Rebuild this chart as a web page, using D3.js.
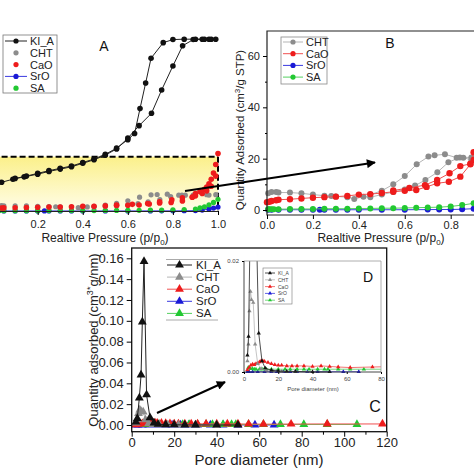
<!DOCTYPE html>
<html><head><meta charset="utf-8">
<script src="https://cdn.jsdelivr.net/npm/d3@7"></script>
<style>body{margin:0;background:#fff}svg{display:block}</style>
</head><body>
<svg id="c" width="474" height="474"></svg>
<script>
// ---------- Isotherm data (panels A & B): relative pressure / quantity adsorbed ----------
const kiaP = [0.01,0.04,0.09,0.14,0.2,0.25,0.3,0.35,0.4,0.45,0.5,0.55,0.6,0.65,0.705,0.75,0.8,0.843,0.89,0.93,0.96,0.99,
              0.97,0.94,0.9,0.85,0.8,0.757,0.703,0.679,0.654,0.63,0.6,0.55,0.5,0.45,0.4,0.35,0.3,0.25,0.2,0.15,0.1];
const kiaQ = [33,37,41,44,47.5,51,54,57,61.5,66,72,80,94,110,126,156,187,213,221,221.5,221.5,221.5,
              221.5,221.5,221.5,221.5,221,217,197,165,132,100,92,81,73,67,62.5,58,55,52,48.5,45,42];
const chtP = [0.005,0.02,0.04,0.05,0.1,0.15,0.2,0.25,0.28,0.3,0.35,0.38,0.42,0.45,0.5,0.55,0.6,0.645,0.69,0.742,0.79,0.84,0.89,0.95,0.99,
              0.96,0.89,0.855,0.826,0.775,0.73,0.703,0.652,0.6,0.55,0.5,0.45];
const chtQ = [6.5,7,7,6.8,6.8,6.5,6,5.6,5.5,5.3,5,4.3,5.2,5,6,7,8,9.5,11.7,14.7,18.6,20.5,20.5,21,21,
              20.5,19.5,20.4,20.4,21.7,21.3,20.8,17.8,13.2,10,7.5,6];
const caoP = [0.0,0.01,0.02,0.04,0.05,0.1,0.15,0.2,0.25,0.3,0.35,0.4,0.45,0.5,0.55,0.6,0.65,0.695,0.741,0.792,0.842,0.886,0.9,0.92,0.94,0.95,0.96,0.97,0.98,0.99,1.0,
              0.99,0.97,0.95,0.93,0.9,0.886,0.842,0.795,0.741,0.688,0.62,0.55];
const caoQ = [3,3.2,3.5,3.8,4,4.2,4.5,4.8,5,5.2,5.5,6,6.2,6.6,7.1,7.5,7.8,9,10.4,11,13,17.8,22.5,25,28,31,35,41,49,60,74,
              45,32,26,22.5,19.5,18,17.1,14.3,11.7,9.7,8.6,7.6];
const sroP = [0.005,0.02,0.05,0.1,0.15,0.2,0.23,0.25,0.3,0.35,0.4,0.5,0.6,0.7,0.75,0.8,0.85,0.9,0.93,0.96,0.98,1.0];
const sroQ = [0.1,0.1,0.1,0.1,0.1,0.1,0.1,0.1,0.1,0.1,0.1,0.1,0.1,0.15,0.2,0.2,0.3,0.5,1.2,2.5,3.8,5];
const saP = [0.005,0.01,0.02,0.03,0.05,0.1,0.15,0.2,0.25,0.3,0.35,0.4,0.45,0.5,0.55,0.6,0.65,0.7,0.75,0.8,0.85,0.9,0.92,0.94,0.96,0.98,1.0];
const saQ = [0.3,0.3,0.3,0.3,0.3,0.4,0.4,0.4,0.5,0.5,0.5,0.6,0.6,0.7,0.7,0.8,0.9,1.0,1.1,1.4,1.9,2.6,4,5.5,8,11,15];

// ---------- Pore size distribution data (panels C & D) ----------
const kiaD = [2.0,2.65,3.6,4.4,5.0,5.8,7.0,8.6,10.5,12.4,16,20,25,30,40,50];
const kiaV = [0.003,0.0064,0.026,0.048,0.099,0.157,0.029,0.007,0.002,0.0007,0.0003,0.0002,0.0001,0.0001,0.0,0.0];
const chtD = [2.0,2.6,3.2,3.8,4.4,5.4,6.5,8,10,13,17,22,30,40];
const chtV = [0.002,0.005,0.011,0.0145,0.013,0.0125,0.005,0.0015,0.0006,0.0003,0.0002,0.0001,0.0001,0.0];
const caoD = [2,3,4,5,6,7,8,9,10,11,12,14,16,18,20,22,25,28,31,35,40,45,50,55,62,75,92,118];
const caoV = [0.0004,0.0008,0.0012,0.0014,0.0013,0.0015,0.0016,0.0018,0.002,0.002,0.0019,0.0017,0.0015,0.0013,0.0012,0.0012,0.0011,0.0011,0.0011,0.0011,0.001,0.0011,0.001,0.0009,0.0008,0.0009,0.001,0.001];
const sroD = [2,3,5,8,12,16,19,23,27,31,37,43,50,58,67];
const sroV = [0.00005,0.00005,0.00005,0.00005,0.00005,0.00005,0.00005,0.00005,0.00005,0.00005,0.00005,0.00005,0.00005,0.00005,0.00005];
const saD = [2.5,3,4,5,6,7,9,11,13,16,20,24,27,31,35,38,43,47,49,55,62,70,81,92,106];
const saV = [0.0008,0.0007,0.0006,0.0006,0.0005,0.0005,0.0005,0.0005,0.0005,0.0005,0.0005,0.0005,0.0005,0.0005,0.0005,0.0005,0.0005,0.0005,0.0005,0.0005,0.0005,0.0005,0.0005,0.0005,0.0005];

const legendA = ["KI_A","CHT","CaO","SrO","SA"];
const legendB = ["CHT","CaO","SrO","SA"];
const ticksAx = [0.2,0.4,0.6,0.8,1.0];
const ticksBx = [0.0,0.2,0.4,0.6,0.8];
const ticksBy = [0,20,40,60];
const ticksCx = [0,20,40,60,80,100,120];
const ticksCy = [0,0.02,0.04,0.06,0.08,0.10,0.12,0.14,0.16];
const ticksDx = [0,20,40,60,80];
const ticksDy = [0,0.02];

const colors = {KI_A:"#111111", CHT:"#8c8c8c", CaO:"#ee1c1c", SrO:"#1a1ad6", SA:"#22c832"};
const lineColors = {KI_A:"#222222", CHT:"#b5b5b5", CaO:"#f05050", SrO:"#3a3ae0", SA:"#55d060"};
const FONT = "'Liberation Sans', Arial, sans-serif";

const svg = d3.select("#c").style("font-family", FONT);
const defs = svg.append("defs");
const grad = defs.append("linearGradient").attr("id","yel").attr("x1",0).attr("y1",0).attr("x2",0).attr("y2",1);
grad.append("stop").attr("offset","0%").attr("stop-color","#fbf08a");
grad.append("stop").attr("offset","100%").attr("stop-color","#fffde9");
defs.append("marker").attr("id","arr").attr("viewBox","0 0 10 10").attr("refX",9).attr("refY",5)
  .attr("markerWidth",11).attr("markerHeight",9).attr("markerUnits","userSpaceOnUse").attr("orient","auto")
  .append("path").attr("d","M0,0 L10,5 L0,10 z").attr("fill","#000");

function zip(a,b){ return a.map((v,i)=>[v,b[i]]); }

// ================= Panel A =================
const xA = d3.scaleLinear([0,1],[-7.4,218]);
const yA = d3.scaleLinear([0,70],[211,156.7]);
const gA = svg.append("g");
gA.append("rect").attr("x",xA(0)).attr("y",yA(70)).attr("width",xA(1)-xA(0)).attr("height",yA(0)-yA(70)).attr("fill","url(#yel)");
gA.append("line").attr("x1",xA(0)).attr("x2",xA(1)).attr("y1",yA(70)).attr("y2",yA(70))
  .attr("stroke","#000").attr("stroke-width",2).attr("stroke-dasharray","6,3");
gA.append("line").attr("x1",xA(1)).attr("x2",xA(1)).attr("y1",yA(70)).attr("y2",yA(0))
  .attr("stroke","#000").attr("stroke-width",2).attr("stroke-dasharray","6,3");

function isoSeries(g, xs, ys, P, Q, name, r, withLine){
  const pts = zip(P,Q);
  if(withLine){
    g.append("path").datum(pts).attr("fill","none").attr("stroke",lineColors[name]).attr("stroke-width",1)
      .attr("d", d3.line().x(d=>xs(d[0])).y(d=>ys(d[1])));
  }
  g.selectAll(null).data(pts).enter().append("circle")
    .attr("cx",d=>xs(d[0])).attr("cy",d=>ys(d[1])).attr("r",r).attr("fill",colors[name]);
}
isoSeries(gA,xA,yA,sroP,sroQ,"SrO",2.6,true);
isoSeries(gA,xA,yA,saP,saQ,"SA",2.6,false);
isoSeries(gA,xA,yA,chtP,chtQ,"CHT",2.6,false);
isoSeries(gA,xA,yA,caoP,caoQ,"CaO",2.8,false);
isoSeries(gA,xA,yA,kiaP,kiaQ,"KI_A",2.8,true);

const axA = gA.append("g").attr("transform","translate(0,211)")
  .call(d3.axisBottom(xA).tickValues(ticksAx).tickFormat(d3.format(".1f")).tickSize(4).tickSizeOuter(0));
axA.select(".domain").remove();
axA.selectAll("text").attr("font-size",11).attr("font-family",FONT).attr("fill","#222").attr("dy","0.9em");
gA.append("line").attr("x1",0).attr("x2",xA(1)).attr("y1",211.5).attr("y2",211.5).attr("stroke","#222");
gA.append("text").attr("x",105).attr("y",242).attr("text-anchor","middle").attr("font-size",12).attr("fill","#222")
  .call(t=>{t.append("tspan").text("Realtive Pressure (p/p"); t.append("tspan").attr("font-size",8).attr("dy",3).text("0"); t.append("tspan").attr("dy",-3).text(")");});
gA.append("text").attr("x",104).attr("y",51).attr("text-anchor","middle").attr("font-size",14).attr("fill","#111").text("A");

// legend A
const legA = gA.append("g");
legA.append("rect").attr("x",3).attr("y",35).attr("width",54).attr("height",58).attr("fill","#fff").attr("stroke","#777").attr("stroke-width",0.8);
legendA.forEach((n,i)=>{
  const y = 41 + i*11.8;
  if(n==="KI_A"||n==="SrO") legA.append("line").attr("x1",5).attr("x2",27).attr("y1",y).attr("y2",y).attr("stroke",lineColors[n]);
  legA.append("circle").attr("cx",16).attr("cy",y).attr("r",2.6).attr("fill",colors[n]);
  legA.append("text").attr("x",30).attr("y",y+4).attr("font-size",11).attr("fill","#222").text(n);
});

// ================= Panel B =================
const xB = d3.scaleLinear([0,1],[267,496.6]);
const yB = d3.scaleLinear([0,60],[210,56]);
const gB = svg.append("g");
isoSeries(gB,xB,yB,sroP,sroQ,"SrO",3,true);
isoSeries(gB,xB,yB,saP,saQ,"SA",3,true);
isoSeries(gB,xB,yB,chtP,chtQ,"CHT",3,true);
isoSeries(gB,xB,yB,caoP,caoQ,"CaO",3.2,true);
// frame
gB.append("path").attr("d",`M474,31 H267 V215 H474`).attr("fill","none").attr("stroke","#222").attr("stroke-width",1.2);
const ayB = gB.append("g").attr("transform","translate(267,0)")
  .call(d3.axisLeft(yB).tickValues(ticksBy).tickSize(4).tickSizeOuter(0));
ayB.select(".domain").remove();
ayB.selectAll("text").attr("font-size",11).attr("font-family",FONT).attr("fill","#222");
const mB = gB.append("g").attr("transform","translate(267,0)")
  .call(d3.axisLeft(yB).tickValues([10,30,50]).tickSize(2).tickFormat(""));
mB.select(".domain").remove();
const axB = gB.append("g").attr("transform","translate(0,215)")
  .call(d3.axisBottom(xB).tickValues(ticksBx).tickFormat(d3.format(".1f")).tickSize(4).tickSizeOuter(0));
axB.select(".domain").remove();
axB.selectAll("text").attr("font-size",11).attr("font-family",FONT).attr("fill","#222").attr("dy","0.6em");
gB.append("text").attr("transform","translate(244,130) rotate(-90)").attr("text-anchor","middle").attr("font-size",11.5).attr("fill","#222")
  .call(t=>{t.append("tspan").text("Quantity Adsorbed (cm"); t.append("tspan").attr("font-size",8).attr("dy",-4).text("3"); t.append("tspan").attr("dy",4).text("/g STP)");});
gB.append("text").attr("x",381).attr("y",242).attr("text-anchor","middle").attr("font-size",12).attr("fill","#222")
  .call(t=>{t.append("tspan").text("Realtive Pressure (p/p"); t.append("tspan").attr("font-size",8).attr("dy",3).text("0"); t.append("tspan").attr("dy",-3).text(")");});
gB.append("text").attr("x",390).attr("y",48).attr("text-anchor","middle").attr("font-size",14).attr("fill","#111").text("B");
const legB = gB.append("g");
legB.append("rect").attr("x",281).attr("y",37).attr("width",46).attr("height",47).attr("fill","#fff").attr("stroke","#888").attr("stroke-width",0.8);
legendB.forEach((n,i)=>{
  const y = 42 + i*11.7;
  legB.append("line").attr("x1",283).attr("x2",303).attr("y1",y).attr("y2",y).attr("stroke",lineColors[n]);
  legB.append("circle").attr("cx",293).attr("cy",y).attr("r",2.6).attr("fill",colors[n]);
  legB.append("text").attr("x",306).attr("y",y+4).attr("font-size",11).attr("fill","#222").text(n);
});

// arrow A -> B
svg.append("line").attr("x1",185).attr("y1",191).attr("x2",375).attr("y2",162.5)
  .attr("stroke","#000").attr("stroke-width",2).attr("marker-end","url(#arr)");

// ================= Panel C =================
const xC = d3.scaleLinear([0,120],[131.7,386.7]);
const yC = d3.scaleLinear([0,0.16],[425,258.3]);
const gC = svg.append("g");
const tri = d3.symbol().type(d3.symbolTriangle);
function psdSeries(g, xs, ys, D, V, name, size, lw){
  const pts = zip(D,V);
  g.append("path").datum(pts).attr("fill","none").attr("stroke",lineColors[name]).attr("stroke-width",lw)
    .attr("d", d3.line().x(d=>xs(d[0])).y(d=>ys(d[1])));
  g.selectAll(null).data(pts).enter().append("path")
    .attr("transform",d=>`translate(${xs(d[0])},${ys(d[1])})`).attr("d",tri.size(size)()).attr("fill",colors[name]);
}
psdSeries(gC,xC,yC,sroD,sroV,"SrO",34,1);
psdSeries(gC,xC,yC,saD,saV,"SA",34,1);
psdSeries(gC,xC,yC,caoD,caoV,"CaO",34,1);
psdSeries(gC,xC,yC,chtD,chtV,"CHT",34,1);
psdSeries(gC,xC,yC,kiaD,kiaV,"KI_A",34,1);
gC.append("rect").attr("x",131.7).attr("y",248).attr("width",255).attr("height",183.7).attr("fill","none").attr("stroke","#111").attr("stroke-width",1.3);
const ayC = gC.append("g").attr("transform","translate(131.7,0)")
  .call(d3.axisLeft(yC).tickValues(ticksCy).tickFormat(d3.format(".2f")).tickSize(5).tickSizeOuter(0));
ayC.select(".domain").remove();
ayC.selectAll("text").attr("font-size",13).attr("font-family",FONT).attr("fill","#222");
const axC = gC.append("g").attr("transform","translate(0,431.7)")
  .call(d3.axisBottom(xC).tickValues(ticksCx).tickSize(5).tickSizeOuter(0));
axC.select(".domain").remove();
axC.selectAll("text").attr("font-size",13).attr("font-family",FONT).attr("fill","#222").attr("dy","0.55em");
const mxC = gC.append("g").attr("transform","translate(0,431.7)")
  .call(d3.axisBottom(xC).tickValues([10,30,50,70,90,110]).tickSize(3).tickFormat(""));
mxC.select(".domain").remove();
gC.append("text").attr("x",259).attr("y",465).attr("text-anchor","middle").attr("font-size",15).attr("fill","#222").text("Pore diameter (nm)");
gC.append("text").attr("transform","translate(98,340) rotate(-90)").attr("text-anchor","middle").attr("font-size",13).attr("fill","#222")
  .call(t=>{t.append("tspan").text("Quantity adsorbed (cm"); t.append("tspan").attr("font-size",9).attr("dy",-5).text("3"); t.append("tspan").attr("font-size",9).text("*"); t.append("tspan").attr("dy",5).text("g/nm)");});
gC.append("text").attr("x",375).attr("y",412).attr("text-anchor","middle").attr("font-size",16).attr("fill","#111").text("C");
// legend C
const legC = gC.append("g");
legC.append("line").attr("x1",166).attr("x2",218).attr("y1",259.5).attr("y2",259.5).attr("stroke","#aaa");
legC.append("line").attr("x1",166).attr("x2",218).attr("y1",320).attr("y2",320).attr("stroke","#aaa");
legendA.forEach((n,i)=>{
  const y = 265 + i*12.1;
  legC.append("line").attr("x1",167).attr("x2",192).attr("y1",y).attr("y2",y).attr("stroke",lineColors[n]);
  legC.append("path").attr("transform",`translate(179.5,${y})`).attr("d",tri.size(34)()).attr("fill",colors[n]);
  legC.append("text").attr("x",196).attr("y",y+4).attr("font-size",11.5).attr("fill","#222").text(n);
});
// arrow C -> D
svg.append("line").attr("x1",157).attr("y1",413).attr("x2",225).attr("y2",382)
  .attr("stroke","#000").attr("stroke-width",2).attr("marker-end","url(#arr)");

// ================= Panel D (inset) =================
const xD = d3.scaleLinear([0,80],[244,381]);
const yD = d3.scaleLinear([0,0.02],[372,261]);
const gD = svg.append("g");
gD.append("rect").attr("x",244).attr("y",261).attr("width",137).attr("height",111).attr("fill","#fff");
defs.append("clipPath").attr("id","clipD").append("rect").attr("x",244).attr("y",261).attr("width",137).attr("height",112);
const gDc = gD.append("g").attr("clip-path","url(#clipD)");
psdSeries(gDc,xD,yD,sroD,sroV,"SrO",8,0.8);
psdSeries(gDc,xD,yD,saD,saV,"SA",8,0.8);
psdSeries(gDc,xD,yD,caoD,caoV,"CaO",8,0.8);
psdSeries(gDc,xD,yD,chtD,chtV,"CHT",8,0.8);
psdSeries(gDc,xD,yD,kiaD,kiaV,"KI_A",8,0.8);
gD.append("path").attr("d","M244,261 H381 V372").attr("fill","none").attr("stroke","#999").attr("stroke-width",0.8);
gD.append("path").attr("d","M244,261 V372 H381").attr("fill","none").attr("stroke","#333").attr("stroke-width",0.9);
const ayD = gD.append("g").attr("transform","translate(244,0)")
  .call(d3.axisLeft(yD).tickValues(ticksDy).tickFormat(d3.format(".2f")).tickSize(2).tickSizeOuter(0));
ayD.select(".domain").remove();
ayD.selectAll("text").attr("font-size",6).attr("font-family",FONT).attr("fill","#444");
const axD = gD.append("g").attr("transform","translate(0,372)")
  .call(d3.axisBottom(xD).tickValues(ticksDx).tickSize(2).tickSizeOuter(0));
axD.select(".domain").remove();
axD.selectAll("text").attr("font-size",6).attr("font-family",FONT).attr("fill","#444");
gD.append("text").attr("x",313).attr("y",391).attr("text-anchor","middle").attr("font-size",6).attr("fill","#444").text("Pore diameter (nm)");
gD.append("text").attr("x",368).attr("y",282).attr("text-anchor","middle").attr("font-size",14).attr("fill","#111").text("D");
const legD = gD.append("g");
legD.append("rect").attr("x",263).attr("y",268).attr("width",29).attr("height",36).attr("fill","#fff").attr("stroke","#777").attr("stroke-width",0.6);
legendA.forEach((n,i)=>{
  const y = 273 + i*6.8;
  legD.append("line").attr("x1",265).attr("x2",275).attr("y1",y).attr("y2",y).attr("stroke",lineColors[n]).attr("stroke-width",0.8);
  legD.append("path").attr("transform",`translate(270,${y})`).attr("d",tri.size(7)()).attr("fill",colors[n]);
  legD.append("text").attr("x",278).attr("y",y+2).attr("font-size",5).attr("fill","#444").text(n);
});
</script>
</body></html>
